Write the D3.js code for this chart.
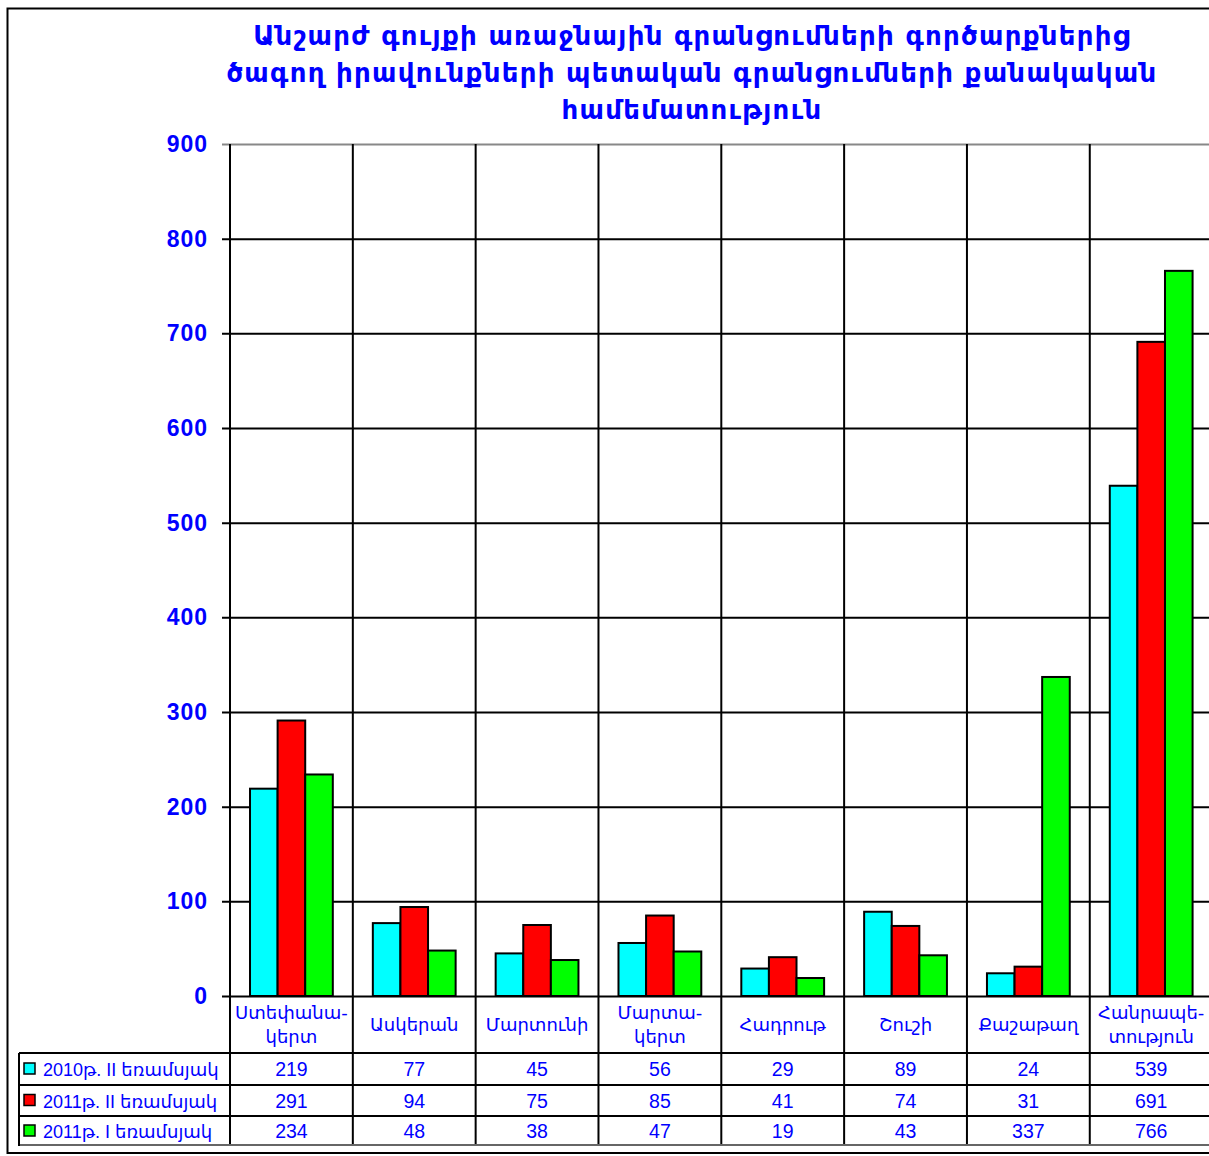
<!DOCTYPE html>
<html><head><meta charset="utf-8">
<script src="https://cdn.jsdelivr.net/npm/d3@7"></script>
<style>body{margin:0;background:#fff}svg{display:block}</style>
</head><body>
<script>
const titleLines = ["Անշարժ գույքի առաջնային գրանցումների գործարքներից","ծագող իրավունքների պետական գրանցումների քանակական","համեմատություն"];
const categories = [["Ստեփանա-","կերտ"],["Ասկերան"],["Մարտունի"],["Մարտա-","կերտ"],["Հադրութ"],["Շուշի"],["Քաշաթաղ"],["Հանրապե-","տություն"]];
const seriesNames = ["2010թ. II եռամսյակ","2011թ. II եռամսյակ","2011թ. I եռամսյակ"];
const s2010II = [219,77,45,56,29,89,24,539];
const s2011II = [291,94,75,85,41,74,31,691];
const s2011I = [234,48,38,47,19,43,337,766];
const yTicks = [0,100,200,300,400,500,600,700,800,900];
const colors = ["#00ffff","#ff0000","#00ff00"];
const seriesValues = [s2010II,s2011II,s2011I];

const W=1209,H=1156;
const svg=d3.select("body").append("svg").attr("width",W).attr("height",H);
const fontA="'Liberation Sans','DejaVu Sans',Arial,sans-serif";
const blue="#0000ff";

// outer frame
svg.append("rect").attr("x",7.5).attr("y",8.5).attr("width",1240).attr("height",1144.5)
  .attr("fill","none").attr("stroke","#000").attr("stroke-width",2);

// title
svg.append("g").selectAll("text").data(titleLines).join("text")
  .attr("x",692).attr("y",(d,i)=>45+i*37).attr("text-anchor","middle")
  .attr("font-family","'DejaVu Sans',sans-serif").attr("font-weight","bold").attr("font-size",26)
  .attr("letter-spacing",1.3)
  .attr("fill",blue).text(d=>d);

const catKeys=categories.map((c,i)=>i);
const x=d3.scaleBand().domain(catKeys).range([230,1212.6]).paddingInner(0).paddingOuter(0);
const xs=d3.scaleBand().domain([0,1,2]).range([0,x.bandwidth()]).paddingInner(0).paddingOuter(0.725);
const y=d3.scaleLinear().domain([0,900]).range([996,144]);

// horizontal gridlines
svg.append("g").selectAll("line").data(yTicks).join("line")
  .attr("x1",222).attr("x2",1212).attr("y1",d=>y(d)+0.5).attr("y2",d=>y(d)+0.5)
  .attr("stroke",d=>d===900?"#888":"#000").attr("stroke-width",2);

// y axis labels
svg.append("g").selectAll("text").data(yTicks).join("text")
  .attr("x",208).attr("y",d=>y(d)+8).attr("text-anchor","end")
  .attr("font-family",fontA).attr("font-weight","bold").attr("font-size",23).attr("letter-spacing",1)
  .attr("fill",blue)
  .text(d=>d);

// bars
const table=[];
seriesValues.forEach((vals,s)=>vals.forEach((v,i)=>table.push({s,i,v})));
svg.append("g").selectAll("rect").data(table).join("rect")
  .attr("x",d=>x(d.i)+xs(d.s)).attr("width",xs.bandwidth())
  .attr("y",d=>y(d.v)).attr("height",d=>y(0)-y(d.v))
  .attr("fill",d=>colors[d.s]).attr("stroke","#000").attr("stroke-width",2);

// vertical category separators
const edges=catKeys.map(i=>x(i)).concat([x(7)+x.bandwidth()]);
svg.append("g").selectAll("line").data(edges).join("line")
  .attr("x1",d=>d).attr("x2",d=>d).attr("y1",144).attr("y2",1145)
  .attr("stroke","#000").attr("stroke-width",2);

// table rows
const rowY=[1053,1085,1116,1145];
svg.append("g").selectAll("line").data(rowY).join("line")
  .attr("x1",19).attr("x2",1212).attr("y1",d=>d).attr("y2",d=>d)
  .attr("stroke",(d,i)=>i===3?"#666":"#000").attr("stroke-width",2);
svg.append("line").attr("x1",19).attr("x2",19).attr("y1",1053).attr("y2",1146).attr("stroke","#000").attr("stroke-width",2);

// category labels
const cg=svg.append("g");
categories.forEach((c,i)=>{
  const cx=x(i)+x.bandwidth()/2;
  c.forEach((line,k)=>{
    cg.append("text").attr("x",cx).attr("y",c.length===1?1031:1019+k*24)
      .attr("text-anchor","middle").attr("font-family","'DejaVu Sans',sans-serif")
      .attr("font-size",18).attr("fill",blue).text(line);
  });
});

// table values
const rowCenters=[1069,1100.5,1131];
seriesValues.forEach((vals,s)=>{
  svg.append("g").selectAll("text").data(vals).join("text")
    .attr("x",(d,i)=>x(i)+x.bandwidth()/2).attr("y",rowCenters[s]+7)
    .attr("text-anchor","middle").attr("font-family",fontA).attr("font-size",19.5).attr("fill",blue)
    .text(d=>d);
});

// legend keys
seriesNames.forEach((n,s)=>{
  svg.append("rect").attr("x",24).attr("y",rowCenters[s]-6).attr("width",11).attr("height",11)
    .attr("fill",colors[s]).attr("stroke","#000").attr("stroke-width",1.5);
  svg.append("text").attr("x",43).attr("y",rowCenters[s]+7).attr("font-family",fontA)
    .attr("font-size",18).attr("fill",blue).text(n);
});
</script>
</body></html>
